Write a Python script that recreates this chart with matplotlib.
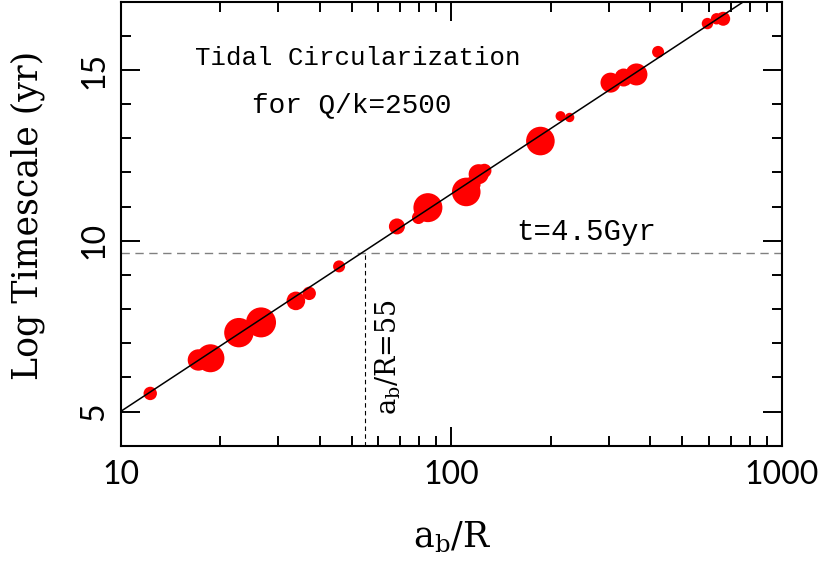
import numpy as np
import matplotlib
matplotlib.use("Agg")
import matplotlib.pyplot as plt
from matplotlib.ticker import MultipleLocator, FixedLocator

# measured systems: orbit separation a_b/R, log circularization timescale (yr)
ab_over_r = [12.3, 17.2, 18.7, 22.8, 26.6, 33.9, 37.2, 45.8, 68.5, 79.6, 85.0,
             111, 116, 121, 126, 186, 214, 228, 303, 332, 363, 422, 595, 634, 664]
log_tcirc = [5.53, 6.51, 6.56, 7.31, 7.61, 8.24, 8.46, 9.25, 10.42, 10.68, 10.97,
             11.43, 11.65, 11.95, 12.05, 12.92, 13.65, 13.61, 14.63, 14.78, 14.87,
             15.53, 16.36, 16.50, 16.50]
# relative point size (symbol radius)
rel_size = [6.7, 10.7, 14.0, 14.7, 15.0, 9.3, 6.7, 6.0, 8.0, 6.5, 14.5,
            14.3, 8.0, 10.0, 7.0, 14.3, 5.0, 4.7, 10.0, 9.0, 11.0, 6.0, 5.7, 5.7, 7.0]

# power-law fit: log t = slope * log(a_b/R) + offset
fit_slope = 6.37
fit_offset = -1.37
t_age = 4.5e9
ab_crit = 55

W, H = 830, 566
fig = plt.figure(figsize=(W / 100, H / 100), dpi=100)
ax = fig.add_axes([120.5 / W, (H - 445.7) / H, (782 - 120.5) / W, (445.7 - 1.7) / H])

xs = np.logspace(1, 3, 200)
ax.plot(xs, fit_slope * np.log10(xs) + fit_offset, color="black", lw=1.1, zorder=3)

s = (2 * np.array(rel_size) * 72 / 100) ** 2
ax.scatter(ab_over_r, log_tcirc, s=s, color="#ff0000", edgecolors="none", zorder=2)

ax.axhline(np.log10(t_age), color="#808080", lw=1.0, dashes=(6, 4), zorder=1)
ax.plot([ab_crit, ab_crit], [4, np.log10(t_age)], color="black", lw=0.8,
        dashes=(4, 3), zorder=1)

ax.set_xscale("log")
ax.set_xlim(10, 1000)
ax.set_ylim(4, 17)
ax.yaxis.set_major_locator(FixedLocator([5, 10, 15]))
ax.yaxis.set_minor_locator(MultipleLocator(1))
ax.set_xticks([10, 100, 1000])
ax.set_xticklabels(["10", "100", "1000"])

for sp in ax.spines.values():
    sp.set_linewidth(1.5)
ax.tick_params(which="both", direction="in", top=True, right=True, width=1.4)
ax.tick_params(which="major", length=13.5)
ax.tick_params(which="minor", length=7.5)
ax.tick_params(axis="x", pad=10)
ax.tick_params(axis="y", pad=8)

tick_font = dict(family=["Lato", "DejaVu Sans"], weight="normal", size=23,
                 color="black")
for lab in ax.get_xticklabels():
    lab.set(**tick_font)
for lab in ax.get_yticklabels():
    lab.set(**tick_font)
    lab.set_rotation(90)
    lab.set_va("center")

mono = ["Liberation Mono", "DejaVu Sans Mono"]
serif = ["DejaVu Serif"]
plt.rcParams["mathtext.default"] = "regular"

ax.text(0.359, 0.857, "Tidal Circularization", transform=ax.transAxes,
        ha="center", va="baseline", family=mono, size=18.5)
ax.text(0.350, 0.751, "for Q/k=2500", transform=ax.transAxes,
        ha="center", va="baseline", family=mono, size=20)
ax.text(0.599, 0.463, "t=4.5Gyr", transform=ax.transAxes,
        ha="left", va="baseline", family=mono, size=21)
ax.text(0.4165, 0.069, "$a_b$/R=55", transform=ax.transAxes, rotation=90,
        rotation_mode="anchor", ha="left", va="baseline", family=serif, size=19.5)

fig.text(28 / W, (H - 215) / H, "Log Timescale (yr)", rotation=90,
         ha="center", va="center", family=serif, size=25)
fig.text(452 / W, (H - 547) / H, "$a_b$/R", ha="center", va="baseline",
         family=serif, size=25)

fig.savefig("out.png", dpi=100)
